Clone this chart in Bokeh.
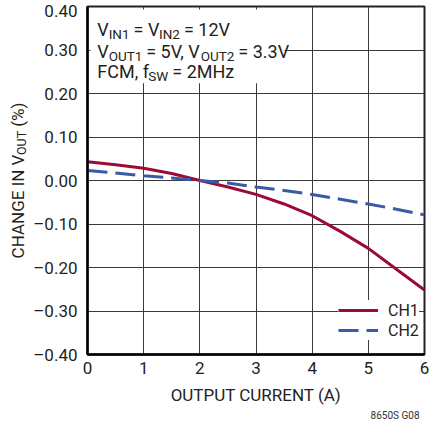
import math
from bokeh.plotting import figure
from bokeh.layouts import row
from bokeh.models import (FixedTicker, CustomJSTickFormatter, Label, BoxAnnotation,
                          Legend, LegendItem, Range1d, Title)
from bokeh.embed import file_html
from bokeh.resources import INLINE

# ---------------- data ----------------
current = [0.0, 0.5, 1.0, 1.5, 2.0, 2.5, 3.0, 3.5, 4.0, 4.5, 5.0, 5.5, 6.0]
ch1 = [0.043, 0.036, 0.028, 0.016, 0.0, -0.015, -0.032, -0.054, -0.081, -0.117, -0.156, -0.204, -0.252]
ch2 = [0.023, 0.017, 0.011, 0.006, 0.0, -0.006, -0.015, -0.023, -0.032, -0.043, -0.054, -0.066, -0.079]
x_ticks = [0, 1, 2, 3, 4, 5, 6]
y_ticks = [-0.4, -0.3, -0.2, -0.1, 0.0, 0.1, 0.2, 0.3, 0.4]
series_names = ["CH1", "CH2"]
x_title = "OUTPUT CURRENT (A)"
y_title = [("CHANGE IN V", 0), ("OUT", 1), (" (%)", 0)]
conditions = [
    [("V", 0), ("IN1", 1), (" = V", 0), ("IN2", 1), (" = 12V", 0)],
    [("V", 0), ("OUT1", 1), (" = 5V, V", 0), ("OUT2", 1), (" = 3.3V", 0)],
    [("FCM, f", 0), ("SW", 1), (" = 2MHz", 0)],
]
fig_code = "8650S G08"

FONT = "Roboto"
TXT = "#231f20"
RED = "#9b0b37"
BLUE = "#3b59a9"

# ---------------- geometry ----------------
H = 420
SW_ = 30                      # strip holding the rotated y title
W = 430 - SW_
FL, FR, FT, FB = 52, 6, 6, 65
FW = W - FL - FR
FH = H - FT - FB
XMIN, XMAX, YMIN, YMAX = 0, 6, -0.4, 0.4


def dx(px):
    return XMIN + px / FW * (XMAX - XMIN)


def dy(py):
    return YMAX - py / FH * (YMAX - YMIN)


# approximate Roboto advance widths (em)
RW = {' ': 0.248, '%': 0.733, '(': 0.342, ')': 0.348, ',': 0.196, '.': 0.263, '=': 0.549,
      'A': 0.652, 'C': 0.652, 'E': 0.568, 'F': 0.553, 'G': 0.682, 'H': 0.713, 'I': 0.272,
      'M': 0.873, 'N': 0.713, 'O': 0.688, 'P': 0.631, 'R': 0.616, 'S': 0.594, 'T': 0.597,
      'U': 0.648, 'V': 0.636, 'W': 0.887, 'f': 0.347, 'z': 0.495}
for d in "0123456789":
    RW[d] = 0.5615


def tw(s, size):
    return sum(RW.get(c, 0.56) for c in s) * size


def split_space(txt):
    lead = len(txt) - len(txt.lstrip(' '))
    trail = len(txt) - len(txt.rstrip(' '))
    return lead, txt.strip(' '), trail


# ---------------- strip with y title ----------------
strip = figure(width=SW_, height=H, output_backend="svg", toolbar_location=None,
               x_range=Range1d(0, SW_), y_range=Range1d(FH, 0),
               x_axis_location=None, y_axis_location=None,
               min_border_left=0, min_border_right=0,
               min_border_top=FT, min_border_bottom=FB)
strip.grid.visible = False
strip.outline_line_color = None
strip.background_fill_color = "white"
strip.border_fill_color = "white"

YS, YSUB = 17, 12.5
total = sum(tw(t, YSUB if s else YS) for t, s in y_title)
yo = FH / 2 + total / 2
for txt, sub in y_title:
    size = YSUB if sub else YS
    lead, core, trail = split_space(txt)
    yo -= lead * RW[' '] * size
    strip.add_layout(Label(x=17 + (4 if sub else 0), y=yo, text=core, angle=math.pi / 2,
                           text_font=FONT, text_font_size=f"{size}px", text_color=TXT,
                           text_align="left", text_baseline="alphabetic"))
    yo -= tw(core, size) + trail * RW[' '] * size

# ---------------- main chart ----------------
p = figure(width=W, height=H, output_backend="svg", toolbar_location=None,
           x_range=Range1d(XMIN, XMAX), y_range=Range1d(YMIN, YMAX),
           min_border_left=FL, min_border_right=FR, min_border_top=FT, min_border_bottom=FB)
p.background_fill_color = "white"
p.border_fill_color = "white"
p.outline_line_color = "#222222"
p.outline_line_width = 2

for ax in (p.xaxis[0], p.yaxis[0]):
    ax.axis_line_color = "black"
    ax.axis_line_width = 2.5
    ax.major_tick_line_color = None
    ax.minor_tick_line_color = None
    ax.major_tick_in = 0
    ax.major_tick_out = 0
    ax.major_label_text_font = FONT
    ax.major_label_text_font_size = "17px"
    ax.major_label_text_color = TXT

p.xaxis.ticker = FixedTicker(ticks=x_ticks)
p.yaxis.ticker = FixedTicker(ticks=y_ticks)
p.xaxis.major_label_standoff = 7
p.yaxis.major_label_standoff = 10
p.yaxis.formatter = CustomJSTickFormatter(code="""
    const v = Math.abs(tick).toFixed(2);
    return (tick < -1e-9 ? "\u2013" : "") + v;
""")
p.xaxis.axis_label = x_title
p.xaxis.axis_label_text_font = FONT
p.xaxis.axis_label_text_font_size = "17px"
p.xaxis.axis_label_text_font_style = "normal"
p.xaxis.axis_label_text_color = TXT
p.xaxis.axis_label_standoff = 8

p.xgrid.ticker = FixedTicker(ticks=x_ticks)
p.ygrid.ticker = FixedTicker(ticks=y_ticks)
for g in (p.xgrid[0], p.ygrid[0]):
    g.grid_line_color = "#3a3a3a"
    g.grid_line_width = 1

r1 = p.line(current, ch1, line_color=RED, line_width=3)
r2 = p.line(current, ch2, line_color=BLUE, line_width=3, line_dash="20 8")

# white box behind the conditions text
p.add_layout(BoxAnnotation(left=dx(3), right=dx(200), top=dy(3), bottom=dy(77),
                           fill_color="white", fill_alpha=1, line_color=None))

MAIN, SUB, SUBDROP = 18, 13.5, 4.5
baselines = [23, 45, 65.5]
for segs, base in zip(conditions, baselines):
    xo = 10
    for txt, sub in segs:
        size = SUB if sub else MAIN
        lead, core, trail = split_space(txt)
        xo += lead * RW[' '] * size
        p.add_layout(Label(x=dx(xo), y=dy(base + (SUBDROP if sub else 0)), text=core,
                           text_font=FONT, text_font_size=f"{size}px", text_color=TXT,
                           text_align="left", text_baseline="alphabetic"))
        xo += tw(core, size) + trail * RW[' '] * size

code_title = Title(text=fig_code, align="right", text_font=FONT, text_font_size="10px",
                   text_font_style="normal", text_color="#333333", offset=5, standoff=0,
                   text_line_height=0.5)
p.add_layout(code_title, "below")

legend = Legend(items=[LegendItem(label=series_names[0], renderers=[r1]),
                       LegendItem(label=series_names[1], renderers=[r2])],
                location=(251, 14), margin=0, padding=6, spacing=0,
                glyph_width=40, glyph_height=20, label_height=20, label_standoff=10,
                label_text_font=FONT, label_text_font_size="16px", label_text_color=TXT,
                background_fill_color="white", background_fill_alpha=1,
                border_line_color=None)
p.add_layout(legend, "center")

layout = row(strip, p)
open("out.html", "w").write(file_html(layout, INLINE))
